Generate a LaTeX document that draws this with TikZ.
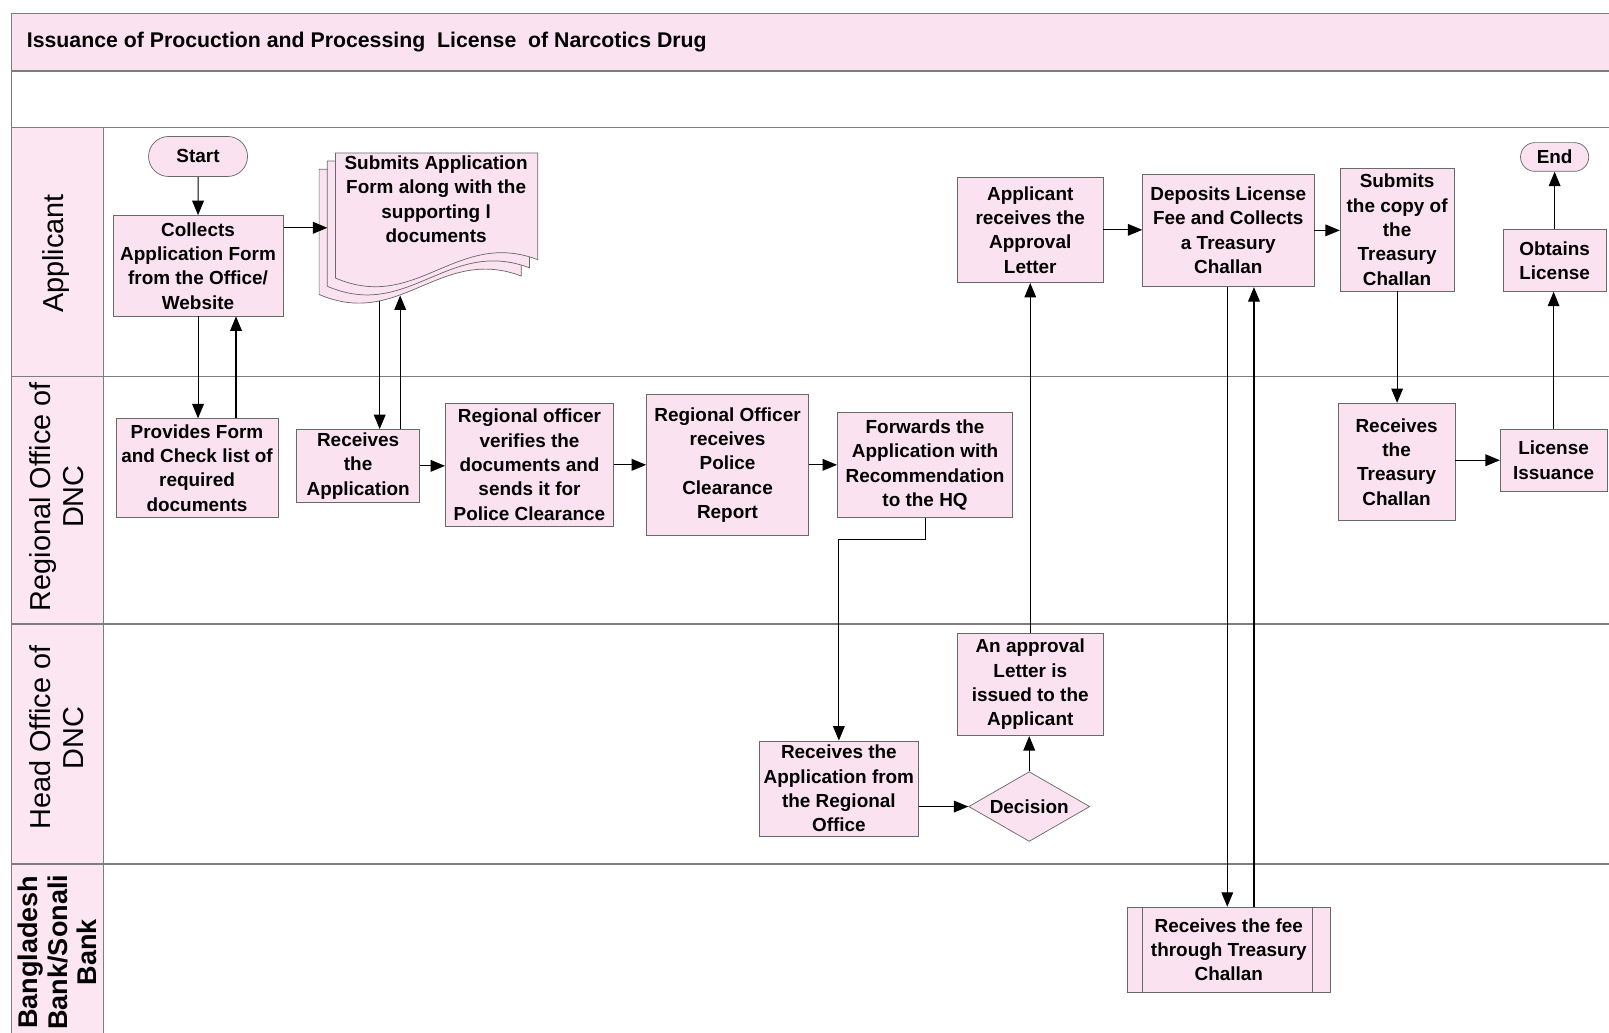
\documentclass[tikz,border=0pt]{standalone}
\usepackage{fontspec}
\setmainfont{Liberation Sans}
\usetikzlibrary{arrows.meta,shapes.geometric,shapes.misc}
\definecolor{boxpink}{RGB}{250,226,240}
\definecolor{lanepink}{RGB}{251,230,242}
\definecolor{laneline}{RGB}{125,125,125}
\definecolor{boxline}{RGB}{105,105,105}
\begin{document}
\begin{tikzpicture}[x=0.02cm,y=-0.02cm,
    box/.style={draw=boxline,fill=boxpink,align=center,inner sep=1pt,
      font=\bfseries\fontsize{10.5}{13.5}\selectfont},
    lanelabel/.style={rotate=90,align=center,font=\fontsize{16}{18.5}\selectfont}]
  \clip (0,0) rectangle (1568,1006);
  \fill[white] (0,0) rectangle (1568,1006);
  \draw[laneline,line width=0.8pt,fill=boxpink] (11,13) rectangle (1600,69);
  \draw[laneline,line width=0.8pt] (11,69) rectangle (1600,124);
  \draw[laneline,line width=0.8pt,fill=lanepink] (11,124) rectangle (101,1040);
  \draw[laneline,line width=0.8pt] (101,124) rectangle (1600,1040);
  \draw[laneline,line width=0.8pt] (11,367) -- (1600,367);
  \draw[laneline,line width=0.8pt] (11,608) -- (1600,608);
  \draw[laneline,line width=0.8pt] (11,842) -- (1600,842);
  \node[anchor=west,font=\bfseries\fontsize{11.8}{14}\selectfont] (title) at (20,41)
    {Issuance of Procuction and Processing\ \ License\ \ of Narcotics Drug};
  \node[lanelabel] (lapp) at (55,247) {Applicant};
  \node[lanelabel] (lreg) at (55,484) {Regional Office of\\DNC};
  \node[lanelabel] (lhead) at (55,719) {Head Office of\\DNC};
  \node[lanelabel,font=\bfseries\fontsize{15}{16.5}\selectfont] (lbank) at (56,928)
    {Bangladesh\\Bank/Sonali\\Bank};
  % submit documents
  \draw[boxline,fill=boxpink] (311,165) -- (508,165) -- (508,269)
    .. controls (429,239) and (390,321) .. (311,287) -- cycle;
  \draw[boxline,fill=boxpink] (319,157) -- (516,157) -- (516,261)
    .. controls (437,231) and (398,313) .. (319,279) -- cycle;
  \draw[boxline,fill=boxpink] (327,149) -- (524,149) -- (524,253)
    .. controls (445,223) and (406,305) .. (327,271) -- cycle;
  \coordinate (docin) at (319,222);
  \coordinate (docdn) at (370,293);
  \coordinate (docup) at (390,288);
  \draw
    (193,152.5) node[box,rounded rectangle,minimum width=2cm,minimum height=0.78cm] (start){Start}
    (193,259) node[box,minimum width=3.32cm,minimum height=1.96cm] (collects){Collects\\Application Form\\from the Office/\\Website}
    (425,194) node[box,draw=none,fill=none] (submit){Submits Application\\Form along with the\\supporting l\\documents}
    (192,456) node[box,minimum width=3.16cm,minimum height=1.92cm] (provides){Provides Form\\and Check list of\\required\\documents}
    (349,454) node[box,minimum width=2.4cm,minimum height=1.42cm] (recv){Receives\\the\\Application}
    (516,453) node[box,minimum width=3.28cm,minimum height=2.4cm] (verify){Regional officer\\verifies the\\documents and\\sends it for\\Police Clearance}
    (709,453) node[box,minimum width=3.16cm,minimum height=2.76cm] (police){Regional Officer\\receives\\Police\\Clearance\\Report}
    (901.5,453) node[box,minimum width=3.42cm,minimum height=2.04cm] (forward){Forwards the\\Application with\\Recommendation\\to the HQ}
    (817.5,768.5) node[box,minimum width=3.1cm,minimum height=1.86cm] (hqrecv){Receives the\\Application from\\the Regional\\Office}
    (1003,786) node[box,diamond,aspect=1.75,inner sep=0pt,minimum width=2.36cm,minimum height=1.36cm] (decision){Decision}
    (1004,667) node[box,minimum width=2.84cm,minimum height=2cm] (issued){An approval\\Letter is\\issued to the\\Applicant}
    (1004,224) node[box,minimum width=2.84cm,minimum height=2.06cm] (apprecv){Applicant\\receives the\\Approval\\Letter}
    (1197,224.5) node[box,minimum width=3.34cm,minimum height=2.2cm] (deposit){Deposits License\\Fee and Collects\\a Treasury\\Challan}
    (1197.5,925.5) node[box,minimum width=3.94cm,minimum height=1.66cm] (bank){Receives the fee\\through Treasury\\Challan}
    (1361.5,224) node[box,minimum width=2.22cm,minimum height=2.38cm] (copy){Submits\\the copy of\\the\\Treasury\\Challan}
    (1361,450) node[box,minimum width=2.28cm,minimum height=2.28cm] (rcvchallan){Receives\\the\\Treasury\\Challan}
    (1514,448.5) node[box,minimum width=2.08cm,minimum height=1.22cm] (issuance){License\\Issuance}
    (1515,254) node[box,minimum width=2cm,minimum height=1.2cm] (obtains){Obtains\\License}
    (1515,153) node[box,rounded rectangle,minimum width=1.4cm,minimum height=0.56cm] (stop){End};
  \draw[boxline] ([xshift=0.3cm]bank.north west) -- ([xshift=0.3cm]bank.south west);
  \draw[boxline] ([xshift=-0.34cm]bank.north east) -- ([xshift=-0.34cm]bank.south east);
  \begin{scope}[-{Triangle[length=8pt,width=6.5pt]},line width=0.6pt]
    \draw (start) to (collects);
    \draw (collects.east |- docin) to (docin);
    \draw (collects.south -| 193,0) to (provides.north -| 193,0);
    \draw (provides.north -| 230,0) to (collects.south -| 230,0);
    \draw (docdn) to (recv.north -| docdn);
    \draw (recv.north -| docup) to (docup);
    \draw (recv.east) to (recv.east -| verify.west);
    \draw (verify.east) to (verify.east -| police.west);
    \draw (police.east) to (police.east -| forward.west);
    \draw (forward.south) -- ++(0,21.5) -| (hqrecv.north);
    \draw (hqrecv.east |- decision.west) to (decision.west);
    \draw (decision.north) to (decision.north |- issued.south);
    \draw (issued.north) to (issued.north |- apprecv.south);
    \draw (apprecv.east) to (apprecv.east -| deposit.west);
    \draw (deposit.south -| 1196,0) to (bank.north -| 1196,0);
    \draw (bank.north -| 1222,0) to (deposit.south -| 1222,0);
    \draw (deposit.east) to (deposit.east -| copy.west);
    \draw (copy.south) to (copy.south |- rcvchallan.north);
    \draw (rcvchallan.east |- issuance.west) to (issuance.west);
    \draw (issuance.north) to (issuance.north |- obtains.south);
    \draw (obtains.north) to (obtains.north |- stop.south);
  \end{scope}
\end{tikzpicture}
\end{document}
